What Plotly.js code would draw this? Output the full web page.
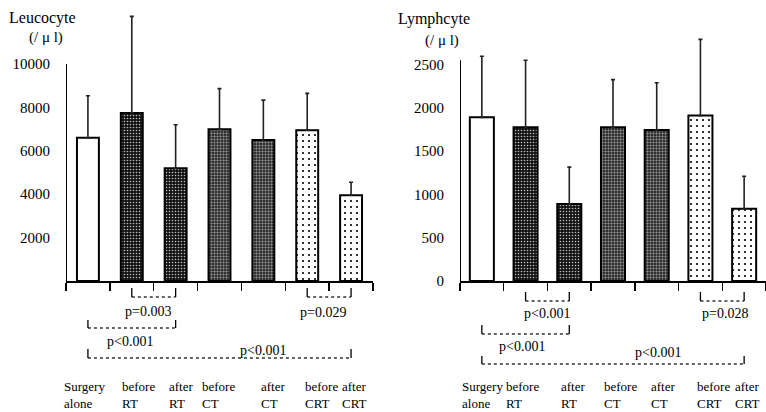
<!DOCTYPE html>
<html><head><meta charset="utf-8">
<script src="https://cdn.plot.ly/plotly-3.0.1.min.js"></script>
<style>html,body{margin:0;padding:0;background:#fff}#chart{width:766px;height:412px}</style>
</head><body><div id="chart"></div>
<script>
// ---------- data ----------
const categories = ['Surgery alone','before RT','after RT','before CT','after CT','before CRT','after CRT'];
const categoryLabels = ['Surgery<br>alone','before<br>RT','after<br>RT','before<br>CT','after<br>CT','before<br>CRT','after<br>CRT'];
const leucocyteMean = [6600, 7750, 5200, 7000, 6500, 6950, 3950];
const leucocyteSD   = [1940, 4450, 2000, 1870, 1840, 1700, 600];
const lymphocyteMean = [1890, 1775, 890, 1775, 1745, 1910, 835];
const lymphocyteSD   = [705, 775, 425, 550, 545, 880, 375];
const leucocyteTicks = [2000, 4000, 6000, 8000, 10000];
const lymphocyteTicks = [0, 500, 1000, 1500, 2000, 2500];
const leucocyteComparisons  = [[1, 2, 'p=0.003'], [5, 6, 'p=0.029'], [0, 2, 'p<0.001'], [0, 6, 'p<0.001']];
const lymphocyteComparisons = [[1, 2, 'p<0.001'], [5, 6, 'p=0.028'], [0, 2, 'p<0.001'], [0, 6, 'p<0.001']];

// ---------- styles / layout helpers ----------
const W = 766, H = 412;
const px = x => x / W;
const py = y => 1 - y / H;
const FONT = '"Liberation Serif", "Times New Roman", Times, serif';

const pattern = {
  shape:    ['', '.', '.', '+', '+', '.', '.'],
  bgcolor:  ['#ffffff', '#141414', '#141414', '#303030', '#303030', '#ffffff', '#ffffff'],
  fgcolor:  ['#ffffff', '#bdbdbd', '#bdbdbd', '#a0a0a0', '#a0a0a0', '#000000', '#000000'],
  size:     [8, 3, 3, 3, 3, 6, 6],
  solidity: [0.3, 0.22, 0.22, 0.3, 0.3, 0.1, 0.1],
  fillmode: 'replace'
};

function barTrace(y, sd, xa, ya, width) {
  return {
    type: 'bar', x: categories, y: y, xaxis: xa, yaxis: ya, width: width,
    marker: { color: '#ffffff', line: { color: '#000', width: 2 }, pattern: pattern },
    error_y: { type: 'data', symmetric: false, array: sd, arrayminus: sd.map(() => 0),
               color: '#222', thickness: 1.6, width: 2 },
    hoverinfo: 'skip', showlegend: false
  };
}

const data = [
  barTrace(leucocyteMean, leucocyteSD, 'x', 'y', 0.5),
  barTrace(lymphocyteMean, lymphocyteSD, 'x2', 'y2', 0.55)
];

function xAxis(domain, anchor) {
  return { domain: domain, anchor: anchor, type: 'category', range: [-0.5, 6.5],
    showline: true, linewidth: 2, linecolor: '#000', mirror: false,
    ticks: 'outside', tickson: 'boundaries', ticklen: 8, tickwidth: 1.5, tickcolor: '#000',
    showticklabels: false, showgrid: false, zeroline: false, fixedrange: true };
}
function yAxis(domain, anchor, range, ticks) {
  return { domain: domain, anchor: anchor, range: range, tickmode: 'array', tickvals: ticks,
    ticktext: ticks.map(String),
    ticks: 'outside', ticklen: 12, tickcolor: 'rgba(0,0,0,0)',
    showline: false, showgrid: false, zeroline: false, fixedrange: true,
    tickfont: { family: FONT, size: 15, color: '#000' } };
}

const shapes = [
  { type: 'line', xref: 'x', yref: 'y', x0: -0.5, x1: -0.5, y0: 0, y1: 10000, line: { color: '#000', width: 2 } },
  { type: 'line', xref: 'x2', yref: 'y2', x0: -0.5, x1: -0.5, y0: 0, y1: 2550, line: { color: '#000', width: 2 } }
];
const annotations = [];

function addBrackets(comps, xref, levels, textPos) {
  comps.forEach((c, i) => {
    const [a, b, label] = c;
    const [top, bot] = levels[i];
    shapes.push({ type: 'line', xref: xref, yref: 'paper', x0: a, x1: b, y0: py(bot), y1: py(bot),
                  line: { color: '#333', width: 1.3, dash: 'dot' } });
    shapes.push({ type: 'line', xref: xref, yref: 'paper', x0: a, x1: a, y0: py(top), y1: py(bot),
                  line: { color: '#000', width: 1.3 } });
    shapes.push({ type: 'line', xref: xref, yref: 'paper', x0: b, x1: b, y0: py(top), y1: py(bot),
                  line: { color: '#000', width: 1.3 } });
    annotations.push({ xref: 'paper', yref: 'paper', x: px(textPos[i][0]), y: py(textPos[i][1]),
                       xanchor: 'center', yanchor: 'middle', showarrow: false, text: label,
                       font: { family: FONT, size: 14, color: '#000' } });
  });
}
addBrackets(leucocyteComparisons, 'x', [[288, 297], [288, 297], [320, 328], [349, 358]],
            [[148, 311], [323, 312], [130, 341], [263, 350]]);
addBrackets(lymphocyteComparisons, 'x2', [[292, 301], [292, 301], [325, 334], [356, 364]],
            [[547, 313], [725, 313], [522, 346], [658, 352]]);

function addCategoryLabels(xs) {
  categoryLabels.forEach((t, i) => {
    annotations.push({ xref: 'paper', yref: 'paper', x: px(xs[i]), y: py(394.5),
      xanchor: 'left', yanchor: 'middle', align: 'left', showarrow: false, text: t,
      font: { family: FONT, size: 13, color: '#000' } });
  });
}
addCategoryLabels([62, 120, 167, 200, 259, 303, 340]);
addCategoryLabels([460, 504, 559, 602, 649, 695, 733]);

function addTitle(text, x, y, size) {
  annotations.push({ xref: 'paper', yref: 'paper', x: px(x), y: py(y), xanchor: 'left', yanchor: 'middle',
    showarrow: false, text: text, font: { family: FONT, size: size, color: '#000' } });
}
addTitle('Leucocyte', 7, 18, 16);
addTitle('(/ μ l)', 27, 38, 15);
addTitle('Lymphcyte', 396, 19, 16);
addTitle('(/ μ l)', 423, 41, 15);

const layout = {
  width: W, height: H, margin: { l: 0, r: 0, t: 0, b: 0 },
  paper_bgcolor: '#fff', plot_bgcolor: 'rgba(0,0,0,0)',
  bargap: 0.5, showlegend: false,
  xaxis: xAxis([px(66), px(373)], 'y'),
  yaxis: yAxis([py(281), py(12)], 'x', [0, 12400], leucocyteTicks),
  xaxis2: xAxis([px(460), px(766)], 'y2'),
  yaxis2: yAxis([py(281), py(33)], 'x2', [0, 2864], lymphocyteTicks),
  shapes: shapes, annotations: annotations
};

Plotly.newPlot('chart', data, layout, { displayModeBar: false, staticPlot: true });
</script>
</body></html>
